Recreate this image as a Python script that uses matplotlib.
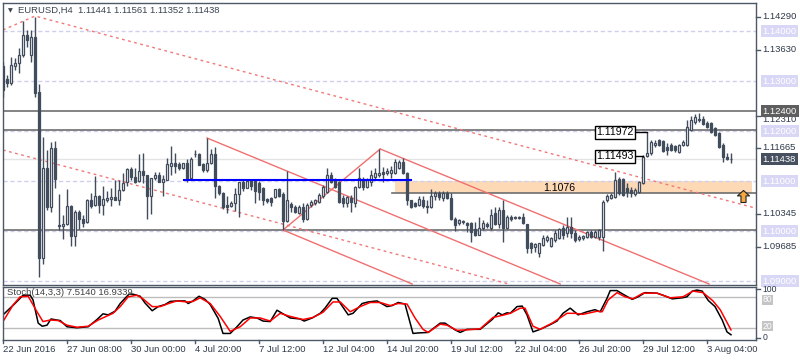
import matplotlib.pyplot as plt
import matplotlib.transforms as mtransforms
from matplotlib.path import Path

plt.rcParams['font.family'] = ['Liberation Sans', 'DejaVu Sans']

# EURUSD H4 candles, one per bar (bar 0 = 22 Jun 2016 16:00)
opens = [1.1330, 1.1304, 1.1296, 1.1330, 1.1336, 1.1352, 1.1392, 1.1352, 1.1388, 1.1278,
         1.0946, 1.1126, 1.1048, 1.1166, 1.1012, 1.1010, 1.1014, 1.1050, 1.0990, 1.1038,
         1.1024, 1.1018, 1.1062, 1.1052, 1.1070, 1.1052, 1.1062, 1.1064, 1.1068, 1.1062,
         1.1082, 1.1098, 1.1124, 1.1108, 1.1100, 1.1120, 1.1112, 1.1070, 1.1106, 1.1112,
         1.1098, 1.1102, 1.1130, 1.1136, 1.1134, 1.1126, 1.1136, 1.1106, 1.1154, 1.1154,
         1.1134, 1.1122, 1.1136, 1.1154, 1.1090, 1.1076, 1.1052, 1.1050, 1.1056, 1.1074,
         1.1098, 1.1086, 1.1100, 1.1100, 1.1096, 1.1086, 1.1064, 1.1066, 1.1068, 1.1084,
         1.1074, 1.1020, 1.1054, 1.1048, 1.1036, 1.1048, 1.1024, 1.1052, 1.1056, 1.1058,
         1.1070, 1.1078, 1.1112, 1.1102, 1.1098, 1.1066, 1.1056, 1.1066, 1.1056, 1.1088,
         1.1104, 1.1088, 1.1098, 1.1108, 1.1112, 1.1118, 1.1116, 1.1116, 1.1116, 1.1126,
         1.1138, 1.1116, 1.1062, 1.1056, 1.1052, 1.1062, 1.1050, 1.1048, 1.1070, 1.1076,
         1.1066, 1.1076, 1.1066, 1.1024, 1.1016, 1.1018, 1.1016, 1.1016, 1.1004, 1.0992,
         1.1006, 1.1014, 1.1006, 1.1036, 1.1014, 1.1042, 1.1006, 1.1028, 1.1026, 1.1028,
         1.1028, 1.1014, 1.0976, 1.0968, 1.0956, 1.0972, 1.0982, 1.0970, 1.0982, 1.0986,
         1.1006, 1.0996, 1.1008, 1.0996, 1.0984, 1.0986, 1.0988, 1.0998, 1.0988, 1.0988,
         1.0988, 1.1062, 1.1066, 1.1068, 1.1104, 1.1104, 1.1086, 1.1082, 1.1074, 1.1078,
         1.1096, 1.1150, 1.1156, 1.1172, 1.1182, 1.1180, 1.1168, 1.1172, 1.1170, 1.1158,
         1.1172, 1.1172, 1.1202, 1.1218, 1.1224, 1.1224, 1.1216, 1.1216, 1.1206, 1.1196,
         1.1172, 1.1148, 1.11441]
highs = [1.1338, 1.1312, 1.1348, 1.1346, 1.1366, 1.1420, 1.1402, 1.1402, 1.1428, 1.1294,
         1.1188, 1.1162, 1.1178, 1.1180, 1.1074, 1.1032, 1.1084, 1.1052, 1.1042, 1.1042,
         1.1032, 1.1064, 1.1076, 1.1110, 1.1072, 1.1090, 1.1080, 1.1086, 1.1102, 1.1102,
         1.1116, 1.1126, 1.1128, 1.1126, 1.1154, 1.1156, 1.1112, 1.1106, 1.1118, 1.1118,
         1.1112, 1.1146, 1.1170, 1.1156, 1.1138, 1.1136, 1.1144, 1.1148, 1.1162, 1.1156,
         1.1136, 1.1186, 1.1164, 1.1168, 1.1092, 1.1078, 1.1070, 1.1060, 1.1086, 1.1098,
         1.1102, 1.1102, 1.1102, 1.1102, 1.1100, 1.1088, 1.1066, 1.1068, 1.1084, 1.1086,
         1.1078, 1.1120, 1.1058, 1.1052, 1.1052, 1.1056, 1.1056, 1.1062, 1.1064, 1.1076,
         1.1092, 1.1126, 1.1118, 1.1106, 1.1100, 1.1072, 1.1070, 1.1072, 1.1090, 1.1126,
         1.1108, 1.1106, 1.1122, 1.1126, 1.1164, 1.1128, 1.1126, 1.1130, 1.1144, 1.1142,
         1.1146, 1.1118, 1.1062, 1.1058, 1.1070, 1.1070, 1.1062, 1.1084, 1.1080, 1.1080,
         1.1080, 1.1080, 1.1076, 1.1028, 1.1024, 1.1022, 1.1018, 1.1018, 1.1018, 1.1028,
         1.1022, 1.1018, 1.1044, 1.1048, 1.1048, 1.1062, 1.1032, 1.1032, 1.1030, 1.1030,
         1.1036, 1.1014, 1.0978, 1.0976, 1.0976, 1.0992, 1.0992, 1.0988, 1.1002, 1.1006,
         1.1012, 1.1028, 1.1028, 1.1002, 1.0992, 1.0992, 1.1000, 1.1002, 1.1002, 1.1004,
         1.1062, 1.1074, 1.1076, 1.1118, 1.1108, 1.1106, 1.1096, 1.1088, 1.1086, 1.1100,
         1.1152, 1.1198, 1.1182, 1.1182, 1.1184, 1.1182, 1.1176, 1.1176, 1.1172, 1.1174,
         1.1182, 1.1222, 1.1230, 1.1234, 1.1236, 1.1230, 1.1220, 1.1218, 1.1208, 1.1198,
         1.1176, 1.1156, 1.11561]
lows = [1.1268, 1.1288, 1.1292, 1.1322, 1.1316, 1.1348, 1.1368, 1.1338, 1.1268, 1.0908,
        1.0934, 1.1042, 1.1038, 1.1086, 1.1002, 1.0984, 1.1012, 1.0970, 1.0970, 1.1004,
        1.1008, 1.1016, 1.1046, 1.1050, 1.1036, 1.1032, 1.1058, 1.1050, 1.1062, 1.1052,
        1.1080, 1.1090, 1.1102, 1.1096, 1.1098, 1.1096, 1.1024, 1.1034, 1.1102, 1.1098,
        1.1070, 1.1102, 1.1112, 1.1116, 1.1122, 1.1124, 1.1098, 1.1106, 1.1148, 1.1132,
        1.1118, 1.1118, 1.1134, 1.1066, 1.1072, 1.1044, 1.1036, 1.1048, 1.1040, 1.1028,
        1.1080, 1.1086, 1.1082, 1.1056, 1.1062, 1.1052, 1.1056, 1.1050, 1.1066, 1.1068,
        1.1002, 1.1018, 1.1038, 1.1036, 1.1034, 1.1018, 1.1022, 1.1048, 1.1052, 1.1056,
        1.1066, 1.1076, 1.1096, 1.1086, 1.1056, 1.1048, 1.1048, 1.1038, 1.1048, 1.1086,
        1.1082, 1.1086, 1.1090, 1.1102, 1.1108, 1.1098, 1.1112, 1.1106, 1.1114, 1.1124,
        1.1114, 1.1052, 1.1046, 1.1048, 1.1050, 1.1046, 1.1036, 1.1046, 1.1062, 1.1062,
        1.1060, 1.1064, 1.1022, 1.1000, 1.1012, 1.1014, 1.0998, 1.0978, 1.0990, 1.0992,
        1.1002, 1.1006, 1.1002, 1.1012, 1.1006, 1.0978, 1.1004, 1.1020, 1.1024, 1.1024,
        1.1014, 1.0956, 1.0956, 1.0958, 1.0948, 1.0970, 1.0978, 1.0968, 1.0978, 1.0984,
        1.0984, 1.0988, 1.0986, 1.0978, 1.0980, 1.0982, 1.0986, 1.0986, 1.0986, 1.0982,
        1.0960, 1.1058, 1.1064, 1.1066, 1.1072, 1.1070, 1.1068, 1.1068, 1.1070, 1.1076,
        1.1094, 1.1148, 1.1152, 1.1168, 1.1170, 1.1158, 1.1152, 1.1160, 1.1158, 1.1156,
        1.1170, 1.1170, 1.1200, 1.1214, 1.1218, 1.1212, 1.1206, 1.1196, 1.1190, 1.1166,
        1.1138, 1.1142, 1.11352]
closes = [1.1282, 1.1296, 1.1332, 1.1336, 1.1352, 1.1392, 1.1382, 1.1388, 1.1276, 1.0946,
          1.1126, 1.1048, 1.1166, 1.1104, 1.1010, 1.1014, 1.1050, 1.0990, 1.1038, 1.1024,
          1.1016, 1.1062, 1.1050, 1.1070, 1.1052, 1.1064, 1.1066, 1.1068, 1.1062, 1.1082,
          1.1096, 1.1124, 1.1108, 1.1098, 1.1120, 1.1112, 1.1070, 1.1106, 1.1112, 1.1098,
          1.1104, 1.1134, 1.1136, 1.1130, 1.1126, 1.1136, 1.1106, 1.1144, 1.1154, 1.1132,
          1.1122, 1.1136, 1.1154, 1.1090, 1.1076, 1.1048, 1.1048, 1.1056, 1.1074, 1.1098,
          1.1086, 1.1100, 1.1090, 1.1080, 1.1078, 1.1062, 1.1060, 1.1058, 1.1084, 1.1070,
          1.1020, 1.1062, 1.1048, 1.1038, 1.1048, 1.1024, 1.1052, 1.1058, 1.1062, 1.1072,
          1.1088, 1.1112, 1.1098, 1.1088, 1.1058, 1.1056, 1.1068, 1.1058, 1.1088, 1.1106,
          1.1088, 1.1102, 1.1112, 1.1116, 1.1116, 1.1114, 1.1120, 1.1122, 1.1138, 1.1138,
          1.1116, 1.1062, 1.1048, 1.1050, 1.1064, 1.1050, 1.1048, 1.1070, 1.1076, 1.1068,
          1.1076, 1.1066, 1.1024, 1.1012, 1.1022, 1.1020, 1.1012, 1.0998, 1.0992, 1.1006,
          1.1016, 1.1010, 1.1032, 1.1014, 1.1042, 1.1006, 1.1028, 1.1024, 1.1028, 1.1026,
          1.1016, 1.0966, 1.0966, 1.0974, 1.0976, 1.0986, 1.0988, 1.0986, 1.0996, 1.1004,
          1.0992, 1.1008, 1.0996, 1.0982, 1.0988, 1.0990, 1.0998, 1.0988, 1.0998, 1.1002,
          1.1058, 1.1070, 1.1072, 1.1102, 1.1076, 1.1072, 1.1078, 1.1076, 1.1082, 1.1098,
          1.1148, 1.1156, 1.1178, 1.1176, 1.1172, 1.1160, 1.1162, 1.1162, 1.1162, 1.1172,
          1.1178, 1.1208, 1.1222, 1.1228, 1.1222, 1.1214, 1.1208, 1.1198, 1.1192, 1.1168,
          1.1148, 1.1144, 1.11438]

# Stochastic(14,3,3): bar position, value
k_bars = [0, 3, 5, 6.8, 7.5, 8.8, 9.8, 11, 12, 13.5, 14.3, 16, 18.5, 21.3, 23.5, 25, 26.3, 28,
          29.3, 30.5, 31.5, 32.5, 34.3, 35.5, 37.3, 38.8, 40.5, 41.8, 43.5, 45.5, 46.3, 47.5,
          49, 50.5, 51.8, 53.8, 55, 56.8, 58.5, 60, 61.8, 63.5, 65, 66.8, 68.5, 69.8, 71.8,
          74.3, 75.3, 77.3, 79.3, 80.5, 82.3, 83.5, 84.8, 86.3, 87.5, 89.8, 91.3, 93.5, 96,
          97.3, 98.8, 100.5, 102.5, 103.8, 106.3, 109.3, 110.5, 113, 114.3, 116, 119.3, 122.3,
          123.8, 124.8, 126, 126.8, 128.5, 129.8, 131, 132.5, 134.3, 136.8, 138.5, 140, 141.8,
          143.8, 146, 148, 149.3, 151, 151.8, 153.5, 155, 157.3, 158.8, 160.5, 163.5, 165,
          167.3, 169.8, 171, 172.3, 173.5, 174.8, 176.3, 178, 179.8, 181, 182]
k_vals = [46, 68, 84, 84, 75, 30, 24, 26, 38, 36, 35, 23, 21, 23, 37, 48, 46, 53,
          68, 78, 86, 86, 82, 69, 54, 62, 66, 72, 73, 73, 68, 73,
          82, 76, 66, 39, 10, 10, 23, 36, 42, 40, 34, 33, 55, 49, 40,
          38, 34, 40, 49, 59, 78, 78, 63, 46, 49, 68, 71, 73, 62,
          64, 70, 67, 10, 11, 12, 30, 30, 17, 12, 18, 18, 37,
          50, 46, 50, 49, 62, 63, 46, 13, 18, 27, 34, 49, 59,
          46, 52, 56, 52, 78, 93, 93, 86, 76, 81, 89, 88, 84,
          77, 79, 81, 92, 94, 92, 74, 62, 36, 13, 7.5]
d_bars = [0, 2.5, 4.3, 6.3, 8.5, 10, 11.8, 13.8, 16, 18.5, 21.3, 23.8, 25.5, 27.5, 29.3, 31.3,
          33.5, 35, 37.3, 39.3, 41.8, 43.5, 46, 47.5, 49.3, 51.8, 54.3, 56.8, 59.3, 61.8,
          64.3, 66.8, 69.3, 71.8, 75, 77.5, 80, 82.5, 84.3, 86.8, 89.3, 91.8, 94.3, 96.8,
          98.8, 101, 103, 105, 106.3, 109.3, 111, 113.5, 116, 119.3, 122.5, 124.8, 126.8,
          129.3, 130.5, 132.5, 134.3, 137.5, 141, 143, 145, 148.5, 149.8, 151.3, 153.5,
          155.5, 157.5, 160, 163.5, 166.8, 170, 172.5, 175, 177.5, 179.3, 182]
d_vals = [33, 65, 81, 82, 52, 33, 36, 35, 26, 22, 24, 36, 42, 49, 62, 81,
          84, 77, 62, 62, 69, 73, 71, 72, 79, 68, 43, 14, 23, 40,
          40, 34, 49, 43, 37, 41, 51, 71, 71, 52, 62, 70, 70, 64,
          68, 67, 40, 18, 12, 28, 26, 16, 17, 19, 41, 45, 49,
          59, 59, 24, 18, 31, 49, 49, 47, 53, 52, 75, 89,
          81, 77, 88, 88, 79, 81, 92, 89, 73, 56, 16.9]

date_labels = ['22 Jun 2016', '27 Jun 08:00', '30 Jun 00:00', '4 Jul 20:00', '7 Jul 12:00',
               '12 Jul 04:00', '14 Jul 20:00', '19 Jul 12:00', '22 Jul 04:00', '26 Jul 20:00',
               '29 Jul 12:00', '3 Aug 04:00']
date_bars = [0, 16, 32, 48, 64, 80, 96, 112, 128, 144, 160, 176]

round_levels = [1.14, 1.13, 1.12, 1.11, 1.10, 1.09]
solid_levels = [1.1240, 1.12015, 1.10015]
support = 1.1076
zone = (98, 187.3, 1.1076, 1.1100)
blue_line = (45.3, 102, 1.11014)
price_ticks = [1.14290, 1.13630, 1.12310, 1.11665, 1.10345, 1.09685]
last_price = 1.11438

# trend lines: (bar, price) anchors
dash_a = ([0, 8, 188], [1.1402, 1.1430, 1.1046])
dash_b = ([0, 126.5], [1.1162, 1.0894])
chan_lines = [([51, 139.3], [1.1186, 1.0894]),
              ([70, 102.3], [1.1002, 1.0894]),
              ([70, 94.3], [1.1002, 1.1164]),
              ([94.3, 176.5], [1.1164, 1.0894])]
callouts = [(148.3, 161, 1.11972, '1.11972'), (148.3, 160, 1.11493, '1.11493')]

W, H = 800, 360
dark = '#414c5c'
frame = '#4d5866'
txt = '#2f3a48'
fs = 6.8

fig = plt.figure(figsize=(8, 3.6), dpi=100)


def rect(x0, y0, x1, y1):
    return [x0 / W, 1 - y1 / H, (x1 - x0) / W, (y1 - y0) / H]


ax = fig.add_axes(rect(2.5, 2.5, 755.5, 284.5))
sx = fig.add_axes(rect(2.5, 286.5, 755.5, 339.5))
for a in (ax, sx):
    a.set_xlim(-0.125, 188.125)
    a.set_xticks([])
    a.set_yticks([])
    for s in a.spines.values():
        s.set_color(frame)
        s.set_linewidth(1)
ax.set_ylim(1.0893, 1.1457)
sx.set_ylim(-1.7, 100.9)

# levels and objects
for lv in round_levels:
    ax.axhline(lv, color='#cfcfee', lw=1, dashes=(3, 2), zorder=1)
for lv in solid_levels:
    ax.axhline(lv, color='#6e6e6e', lw=1.2, zorder=1)
ax.axhline(last_price, color='#e4e4e4', lw=1, zorder=0.5)
ax.fill_between([zone[0], zone[1]], zone[2], zone[3], color='#fdd9b6', lw=0, zorder=0.8)
ax.plot([97.3, 189], [support, support], color='#6e6e6e', lw=1.2, zorder=1)
ax.plot([blue_line[0], blue_line[1]], [blue_line[2]] * 2, color='#0000ff', lw=1.5, zorder=5)
ax.plot(*dash_a, color='#f07878', lw=1, dashes=(2, 2.5), zorder=2)
ax.plot(*dash_b, color='#f07878', lw=1, dashes=(2, 2.5), zorder=2)
for xs, ps in chan_lines:
    ax.plot(xs, ps, color='#f07070', lw=1, zorder=2)

# candles
n = len(opens)
bars = list(range(n))
ax.vlines(bars, lows, highs, color=dark, lw=1, zorder=3)
bottoms = [min(o, c) for o, c in zip(opens, closes)]
heights = [abs(c - o) for o, c in zip(opens, closes)]
faces = ['white' if c >= o else dark for o, c in zip(opens, closes)]
ax.bar(bars, heights, 0.5, bottoms, color=faces, edgecolor=dark, lw=0.9, zorder=4)

# price callouts
for xb, xe, p, s in callouts:
    ax.plot([xb + 10, xe], [p, p], color='black', lw=1, zorder=6)
    ax.text(xb, p, s, fontsize=7.6, color='black', va='center', ha='left', zorder=7,
            bbox=dict(boxstyle='square,pad=0.12', fc='white', ec='black', lw=1))
ax.text(135, support + 0.00005, '1.1076', fontsize=7.6, color='black', va='bottom', ha='left', zorder=6)

# up arrow object
arrow = Path([(0, 1), (1, 0.1), (0.42, 0.1), (0.42, -1), (-0.42, -1), (-0.42, 0.1), (-1, 0.1), (0, 1)])
ax.scatter([185], [1.1071], marker=arrow, s=75, facecolor='#f5a742', edgecolor='#222222', lw=0.8, zorder=8)

# right price axis
tr = mtransforms.blended_transform_factory(ax.transAxes, ax.transData)
x_lab = 1.0095
for p in price_ticks:
    ax.plot([1.0, 1.0055], [p, p], transform=tr, color=frame, lw=1, clip_on=False)
    # the 1.12310 label sits half under the 1.12400 marker in the terminal; nudge it below
    yp = p - 0.0008 if p == 1.12310 else p
    ax.text(x_lab, yp, f'{p:.5f}', transform=tr, fontsize=fs, color=txt, va='center', ha='left', clip_on=False)
for lv in round_levels:
    ax.text(x_lab, lv, f'{lv:.5f}', transform=tr, fontsize=fs, color='white', va='center', ha='left',
            clip_on=False, zorder=9, bbox=dict(boxstyle='square,pad=0.18', fc='#d8d8f6', ec='none'))
ax.text(x_lab, 1.1240, '1.12400', transform=tr, fontsize=fs, color='white', va='center', ha='left',
        clip_on=False, zorder=10, bbox=dict(boxstyle='square,pad=0.18', fc='#5e5e5e', ec='none'))
ax.text(x_lab, last_price, f'{last_price:.5f}', transform=tr, fontsize=fs, color='white', va='center',
        ha='left', clip_on=False, zorder=10, bbox=dict(boxstyle='square,pad=0.18', fc='#46505e', ec='none'))

# title
fig.text(8 / W, 1 - 10.5 / H, '\u25bc', fontsize=4.5, color='#3a4450', va='center', family='DejaVu Sans')
fig.text(18 / W, 1 - 10.5 / H, 'EURUSD,H4  1.11441 1.11561 1.11352 1.11438', fontsize=fs,
         color='#3a4450', va='center')

# stochastic panel
sx.axhline(80, color='#bdbdbd', lw=1)
sx.axhline(20, color='#bdbdbd', lw=1)
sx.plot(k_bars, k_vals, color='black', lw=1.1)
sx.plot(d_bars, d_vals, color='#ff0000', lw=1.1)
sx.text(1, 90, 'Stoch(14,3,3) 7.5140 16.9339', fontsize=fs, color='#404040', va='center', ha='left')
trs = mtransforms.blended_transform_factory(sx.transAxes, sx.transData)
sfs = 6.2
sx.text(x_lab, 96, '100', transform=trs, fontsize=sfs, color=txt, va='center', ha='left', clip_on=False)
sx.text(x_lab, 2, '0', transform=trs, fontsize=sfs, color=txt, va='center', ha='left', clip_on=False)
sx.text(x_lab, 75, '80', transform=trs, fontsize=sfs, color='white', va='center', ha='left', clip_on=False,
        bbox=dict(boxstyle='square,pad=0.08', fc='#c4c4c4', ec='none'))
sx.text(x_lab, 24, '20', transform=trs, fontsize=sfs, color='white', va='center', ha='left', clip_on=False,
        bbox=dict(boxstyle='square,pad=0.08', fc='#c4c4c4', ec='none'))
for lvl in (96, 2):
    sx.plot([1.0, 1.0055], [lvl, lvl], transform=trs, color=frame, lw=1, clip_on=False)

# time axis
trx = mtransforms.blended_transform_factory(sx.transData, sx.transAxes)
for b, s in zip(date_bars, date_labels):
    sx.plot([b, b], [0, -0.075], transform=trx, color=frame, lw=1, clip_on=False)
    sx.text(b, -0.18, s, transform=trx, fontsize=fs, color=txt, va='center', ha='left', clip_on=False)

fig.savefig('out.png', dpi=100, facecolor='white')
